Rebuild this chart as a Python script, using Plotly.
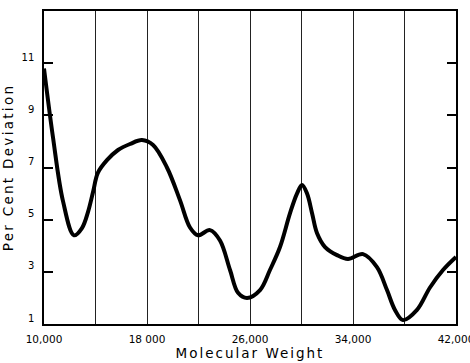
import plotly.graph_objects as go

molecular_weight = [10000, 10700, 11480, 12330, 12950, 13420, 13810,
                    14190, 14890, 15750, 16680, 17610, 18470, 19550, 20560, 21340, 21960,
                    22890, 23670, 24450, 25070, 25770, 26780, 27550, 28330, 29110, 29650,
                    30040, 30430, 30820, 31200, 31830, 32760, 33610, 34780, 35860, 36640,
                    37260, 37880, 38970, 39980, 40990, 42000]
per_cent_deviation = [10.8, 8.15, 5.7, 4.4, 4.68, 5.3, 6.06,
                      6.8, 7.28, 7.67, 7.9, 8.05, 7.86, 7.0, 5.75, 4.7, 4.4,
                      4.6, 4.2, 3.07, 2.2, 2.0, 2.3, 3.07, 3.95, 5.25, 6.0,
                      6.33, 6.0, 5.25, 4.49, 3.95, 3.64, 3.49, 3.68, 3.18, 2.3,
                      1.54, 1.15, 1.54, 2.4, 3.07, 3.57]

x_tickvals = [10000, 14000, 18000, 22000, 26000, 30000, 34000, 38000, 42000]
x_ticktext = ["10,000", "", "18 000", "", "26,000", "", "34,000", "", "42,000"]
y_tickvals = [1, 3, 5, 7, 9, 11]
y_ticktext = ["1", "3", "5", "7", "9", "11"]

font_family = "'DejaVu Sans', sans-serif"

fig = go.Figure()
fig.add_trace(go.Scatter(
    x=molecular_weight, y=per_cent_deviation, mode="lines",
    line=dict(color="black", width=4, shape="spline", smoothing=1.0),
    hoverinfo="skip", showlegend=False,
))

fig.update_layout(
    width=470, height=363,
    margin=dict(l=44, r=14, t=11, b=39),
    paper_bgcolor="white", plot_bgcolor="white",
    font=dict(family=font_family, color="black"),
)
fig.update_xaxes(
    range=[10000, 42000], tickvals=x_tickvals, ticktext=x_ticktext,
    showgrid=True, gridcolor="#222", gridwidth=1,
    showline=True, linecolor="black", linewidth=1.5, mirror=True,
    ticks="", tickfont=dict(size=10.5, family=font_family),
    ticklabelstandoff=5, ticklabeloverflow="allow", automargin=False,
    title=dict(text='<span style="letter-spacing:2px">Molecular Weight</span>',
               font=dict(size=13.5, family=font_family), standoff=4),
    zeroline=False,
)
fig.update_yaxes(
    range=[1, 13], tickvals=y_tickvals, ticktext=y_ticktext,
    showgrid=False,
    showline=True, linecolor="black", linewidth=1.5, mirror="ticks",
    ticks="inside", ticklen=9, tickwidth=1.5, tickcolor="black",
    tickfont=dict(size=10, family=font_family), ticklabelshift=-6, ticklabelstandoff=6,
    automargin=False,
    title=dict(text='<span style="letter-spacing:2.3px">Per Cent Deviation</span>',
               font=dict(size=13.5, family=font_family), standoff=8),
    zeroline=False,
)

fig.write_html("out.html")
